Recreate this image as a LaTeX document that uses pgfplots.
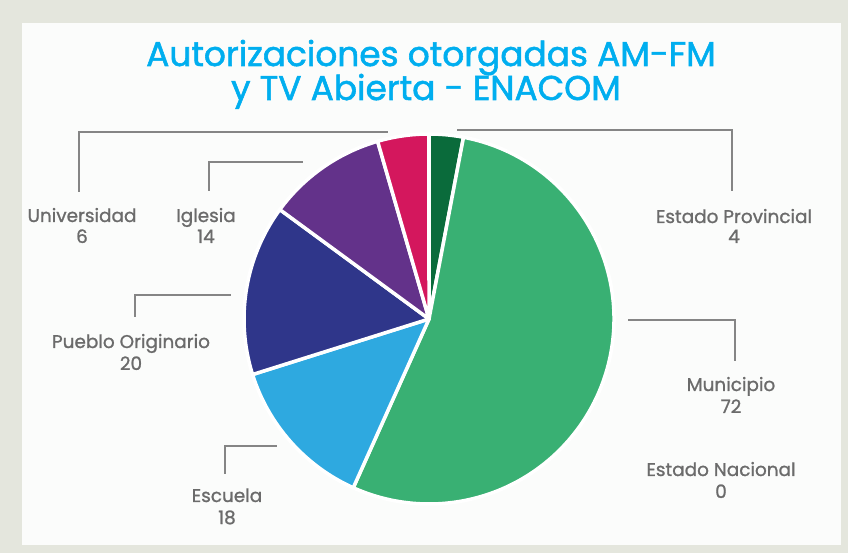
\documentclass[border=0pt]{standalone}
\usepackage{pgfplots}
\usepackage{pgfplotstable}
\pgfplotsset{compat=1.18}
\usepackage{fontspec}
\setmainfont{Poppins}
\newfontfamily\ttlfont{Poppins}[FakeBold=1.6]
\newfontfamily\lblfont{Poppins}[FakeBold=1.1]
\definecolor{bgout}{HTML}{E4E6DD}
\definecolor{bgin}{HTML}{FBFCFB}
\definecolor{ttl}{HTML}{00AEEF}
\definecolor{lbl}{HTML}{6B6B6B}
\definecolor{ldr}{HTML}{858585}
\definecolor{cProv}{HTML}{0A6B3B}
\definecolor{cMun}{HTML}{39B073}
\definecolor{cNac}{HTML}{888888}
\definecolor{cEsc}{HTML}{2EA9E0}
\definecolor{cPue}{HTML}{2F368A}
\definecolor{cIgl}{HTML}{63328A}
\definecolor{cUni}{HTML}{D4175D}
\pgfplotstableread{
name value color
Prov 4 cProv
Mun 72 cMun
Nac 0 cNac
Esc 18 cEsc
Pue 20 cPue
Igl 14 cIgl
Uni 6 cUni
}\piedata
\begin{document}
\begin{tikzpicture}
\begin{axis}[width=848bp,height=553bp,scale only axis,xmin=0,xmax=848,ymin=0,ymax=553,hide axis,clip=false]
\fill[bgout] (axis cs:0,0) rectangle (axis cs:848,553);
\fill[bgin] (axis cs:22,8) rectangle (axis cs:841,530);
% pie wedges from table
\pgfplotstablegetrowsof{\piedata}
\pgfmathtruncatemacro\nlast{\pgfplotsretval-1}
\def\total{0}
\pgfplotsforeachungrouped \i in {0,...,\nlast}{%
  \pgfplotstablegetelem{\i}{value}\of\piedata
  \pgfmathsetmacro\total{\total+\pgfplotsretval}%
}
\def\startang{90}
\pgfplotsforeachungrouped \i in {0,...,\nlast}{%
  \pgfplotstablegetelem{\i}{value}\of\piedata
  \let\val\pgfplotsretval
  \pgfplotstablegetelem{\i}{color}\of\piedata
  \let\col\pgfplotsretval
  \pgfmathsetmacro\endang{\startang-\val/\total*360}%
  \ifdim\val pt>0pt
    \edef\cmd{\noexpand\fill[\col,draw=white,line width=3.5bp,line join=round] (axis cs:429,234) -- ++(\startang:185bp) arc[start angle=\startang,end angle=\endang,radius=185bp] -- cycle;}%
    \cmd
  \fi
  \let\startang\endang
}
% leader lines
\addplot[ldr,line width=1.2bp,no marks] coordinates {(79,361) (79,421) (388,421)};
\addplot[ldr,line width=1.2bp,no marks] coordinates {(209,362) (209,391) (303,391)};
\addplot[ldr,line width=1.2bp,no marks] coordinates {(457,423) (732,423) (732,362)};
\addplot[ldr,line width=1.2bp,no marks] coordinates {(135,236) (135,258) (231,258)};
\addplot[ldr,line width=1.2bp,no marks] coordinates {(225,79) (225,107) (277,107)};
\addplot[ldr,line width=1.2bp,no marks] coordinates {(628,233) (735,233) (735,192)};
% title
\node[anchor=base,text=ttl,font=\ttlfont\fontsize{34.5}{38}\selectfont,inner sep=0pt] at (axis cs:431,487) {Autorizaciones otorgadas AM-FM};
\node[anchor=base,text=ttl,font=\ttlfont\fontsize{34.5}{38}\selectfont,inner sep=0pt] at (axis cs:426,453) {y TV Abierta - ENACOM};
% labels
\tikzset{lb/.style={anchor=base,text=lbl,font=\lblfont\fontsize{18.5}{21}\selectfont,inner sep=0pt}}
\node[lb] at (axis cs:82,331) {Universidad};
\node[lb] at (axis cs:82,310) {6};
\node[lb] at (axis cs:206,331) {Iglesia};
\node[lb] at (axis cs:206,310) {14};
\node[lb] at (axis cs:734,330) {Estado Provincial};
\node[lb] at (axis cs:734,310) {4};
\node[lb] at (axis cs:131,205) {Pueblo Originario};
\node[lb] at (axis cs:131,183) {20};
\node[lb] at (axis cs:227,51) {Escuela};
\node[lb] at (axis cs:227,29) {18};
\node[lb] at (axis cs:731,162) {Municipio};
\node[lb] at (axis cs:731,140) {72};
\node[lb] at (axis cs:721,77) {Estado Nacional};
\node[lb] at (axis cs:721,55) {0};
\end{axis}
\end{tikzpicture}
\end{document}
